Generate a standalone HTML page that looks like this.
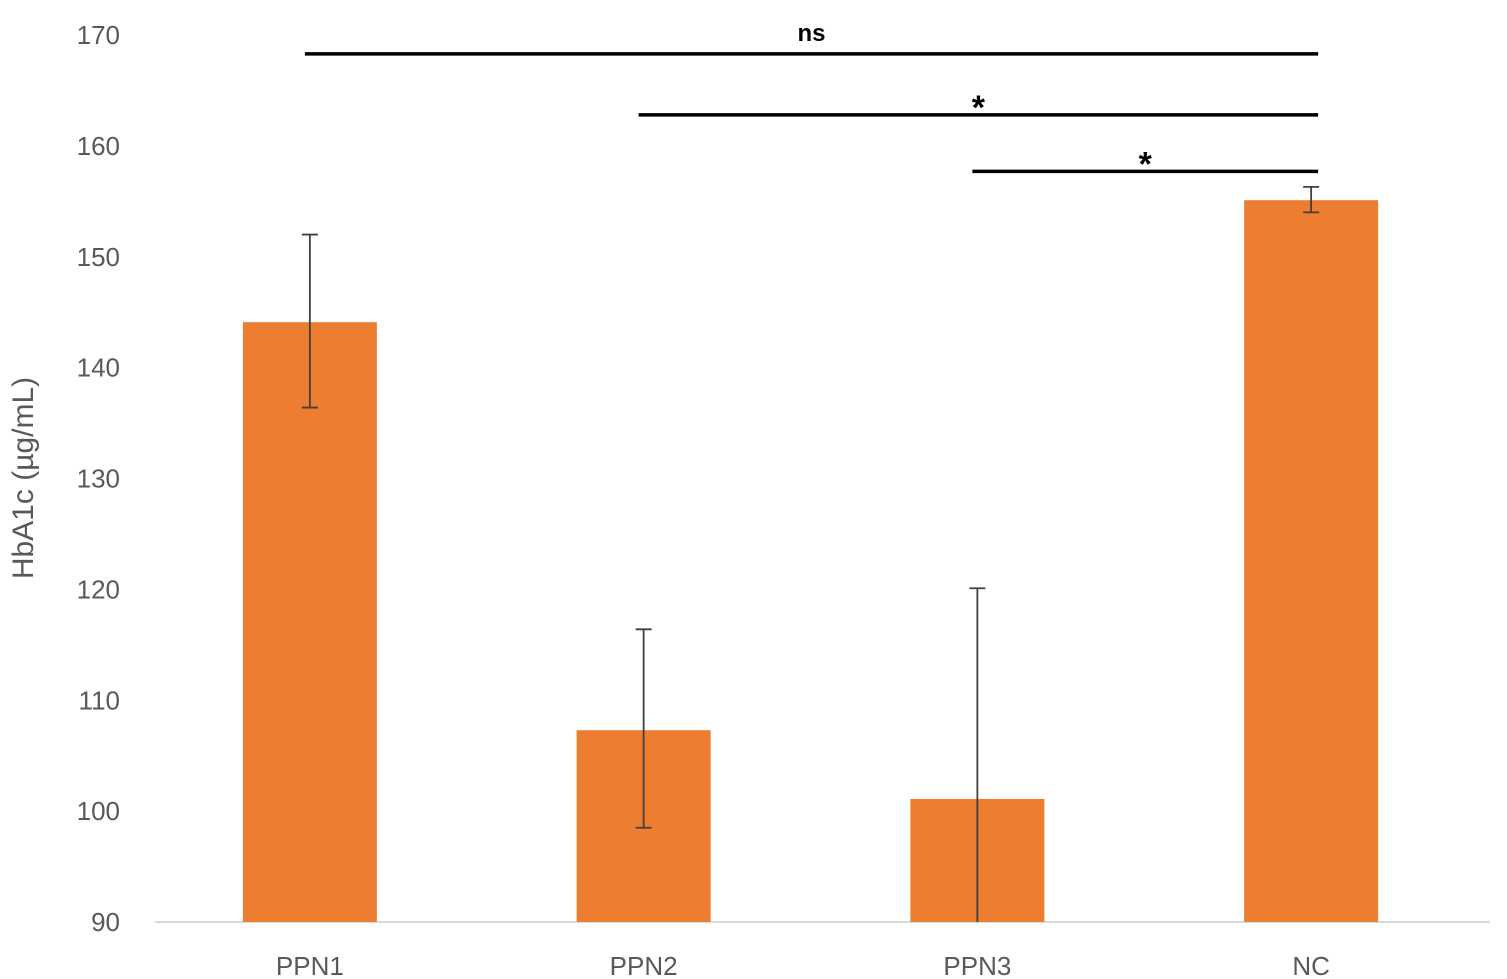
<!DOCTYPE html>
<html><head><meta charset="utf-8"><style>
html,body{margin:0;padding:0;background:#fff;}
svg{display:block;font-family:"Liberation Sans",sans-serif;}
</style></head><body>
<svg id="chart" width="1507" height="979">
<g id="axis"></g>
<g id="bars"></g>
<g id="sig"></g>
<text x="33" y="478" transform="rotate(-90 33 478)" text-anchor="middle" font-size="30" fill="#595959">HbA1c (µg/mL)</text>
</svg>
<script>
const categories = ["PPN1","PPN2","PPN3","NC"];
const values = [144.1, 107.3, 101.1, 155.1];
const errHigh = [152.0, 116.4, 120.1, 156.3];
const errLow = [136.4, 98.5, 82.0, 154.0];
const yTicks = [90,100,110,120,130,140,150,160,170];
const sigFrom = [0, 1, 2];
const sigTo = [3, 3, 3];
const sigLabels = ["ns","*","*"];
const sigLevel = [168.3, 162.8, 157.7];

const NS="http://www.w3.org/2000/svg";
const yMin=90,yMax=170,yTop=35,yBot=922;
const y=v=>yBot-(v-yMin)/(yMax-yMin)*(yBot-yTop);
const x0=155,x1=1490,step=(x1-x0)/categories.length;
const xc=i=>x0+step*(i+0.5)-12;
const bw=134;
function mk(tag,attrs,parent){const e=document.createElementNS(NS,tag);for(const k in attrs)e.setAttribute(k,attrs[k]);parent.appendChild(e);return e;}
const axis=document.getElementById('axis'),bars=document.getElementById('bars'),sig=document.getElementById('sig');
yTicks.forEach(t=>{const e=mk('text',{x:120,y:y(t)+9,'text-anchor':'end','font-size':26,fill:'#595959'},axis);e.textContent=t;

});
const base=mk('line',{x1:x0,x2:x1,y1:yBot,y2:yBot,stroke:'#d9d9d9','stroke-width':2},axis);


categories.forEach((c,i)=>{
 const cx=xc(i);
 const r=mk('rect',{x:cx-bw/2,y:y(values[i]),width:bw,height:yBot-y(values[i]),fill:'#ed7d31'},bars);
 
 
 const lo=Math.max(errLow[i],yMin);
 const eb=mk('path',{d:`M${cx},${y(errHigh[i])}V${y(lo)}M${cx-8},${y(errHigh[i])}H${cx+8}`+(errLow[i]>=yMin?`M${cx-8},${y(lo)}H${cx+8}`:''),stroke:'#404040','stroke-width':1.8,fill:'none'},bars);
 
 
 const t=mk('text',{x:cx,y:975,'text-anchor':'middle','font-size':26,fill:'#595959'},bars);t.textContent=c;
 
 
});
sigLabels.forEach((l,k)=>{
 const a=xc(sigFrom[k])-5,b=xc(sigTo[k])+7,yy=y(sigLevel[k]);
 const ln=mk('line',{x1:a,x2:b,y1:yy,y2:yy,stroke:'#000','stroke-width':3.5},sig);
 
 
 const t=mk('text',{x:(a+b)/2,y:l==='ns'?yy-13:yy+4,'text-anchor':'middle','font-size':l==='ns'?24:34,'font-weight':'bold',fill:'#000'},sig);t.textContent=l;
 
 
});
</script>
</body></html>
